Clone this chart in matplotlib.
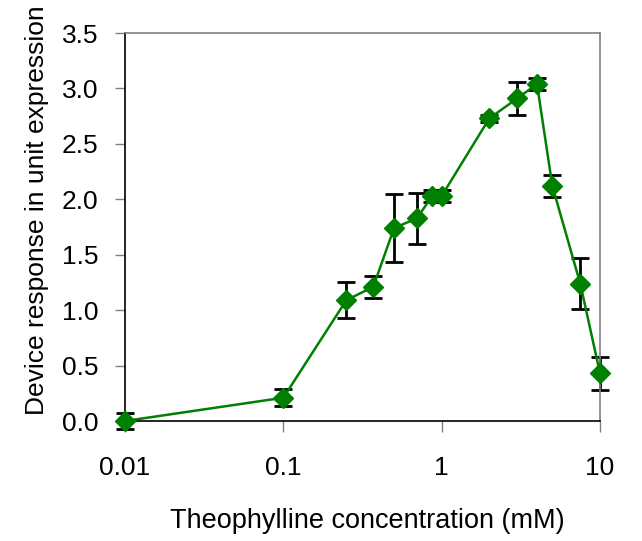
import numpy as np
import matplotlib.pyplot as plt

plt.rcParams['font.family'] = ['Liberation Sans', 'DejaVu Sans']

# Theophylline concentration (mM) and device response
conc = [0.01, 0.1, 0.25, 0.37, 0.5, 0.7, 0.87, 1.0, 2.0, 3.0, 4.0, 5.0, 7.5, 10.0]
resp = [0.0, 0.21, 1.09, 1.21, 1.74, 1.83, 2.03, 2.03, 2.73, 2.91, 3.04, 2.12, 1.24, 0.43]
err = [0.075, 0.078, 0.16, 0.10, 0.31, 0.23, 0.05, 0.05, 0.03, 0.15, 0.05, 0.10, 0.23, 0.15]

yticks = [0.0, 0.5, 1.0, 1.5, 2.0, 2.5, 3.0, 3.5]
xticks = [0.01, 0.1, 1, 10]
xticklabels = ['0.01', '0.1', '1', '10']

fig = plt.figure(figsize=(6.42, 5.41), dpi=100)
ax = fig.add_axes([0.1947, 0.2218, 0.7399, 0.7172])

# error bars first, markers on top
ax.errorbar(conc, resp, yerr=err, fmt='none', ecolor='black', elinewidth=2,
            capsize=6.5, capthick=2, zorder=2, clip_on=False)
ax.plot(conc, resp, color='#008000', lw=1.8, marker='D', ms=10,
        markerfacecolor='#008000', markeredgecolor='#008000', zorder=3, clip_on=False)

ax.set_xscale('log')
ax.set_xlim(0.01, 10)
ax.set_ylim(0, 3.5)
ax.set_xticks(xticks)
ax.set_xticklabels(xticklabels)
ax.xaxis.set_minor_locator(plt.NullLocator())
ax.set_yticks(yticks)
ax.set_yticklabels([f'{t:.1f}' for t in yticks])

ax.tick_params(axis='x', direction='out', length=8, width=1, color='#808080',
               labelsize=19, pad=17)
ax.tick_params(axis='y', direction='out', length=7, width=1, color='#808080',
               labelsize=19, pad=12)

ax.spines['left'].set_color('black')
ax.spines['bottom'].set_color('black')
ax.spines['top'].set_color('#808080')
ax.spines['right'].set_color('#808080')
for s in ax.spines.values():
    s.set_linewidth(1.2)

ax.set_xlabel('Theophylline concentration (mM)', fontsize=19.5)
ax.xaxis.set_label_coords(0.51, -0.224)
ax.set_ylabel('Device response in unit expression', fontsize=19)
ax.yaxis.set_label_coords(-0.16, 0.543)

fig.savefig('out.png', dpi=100)
